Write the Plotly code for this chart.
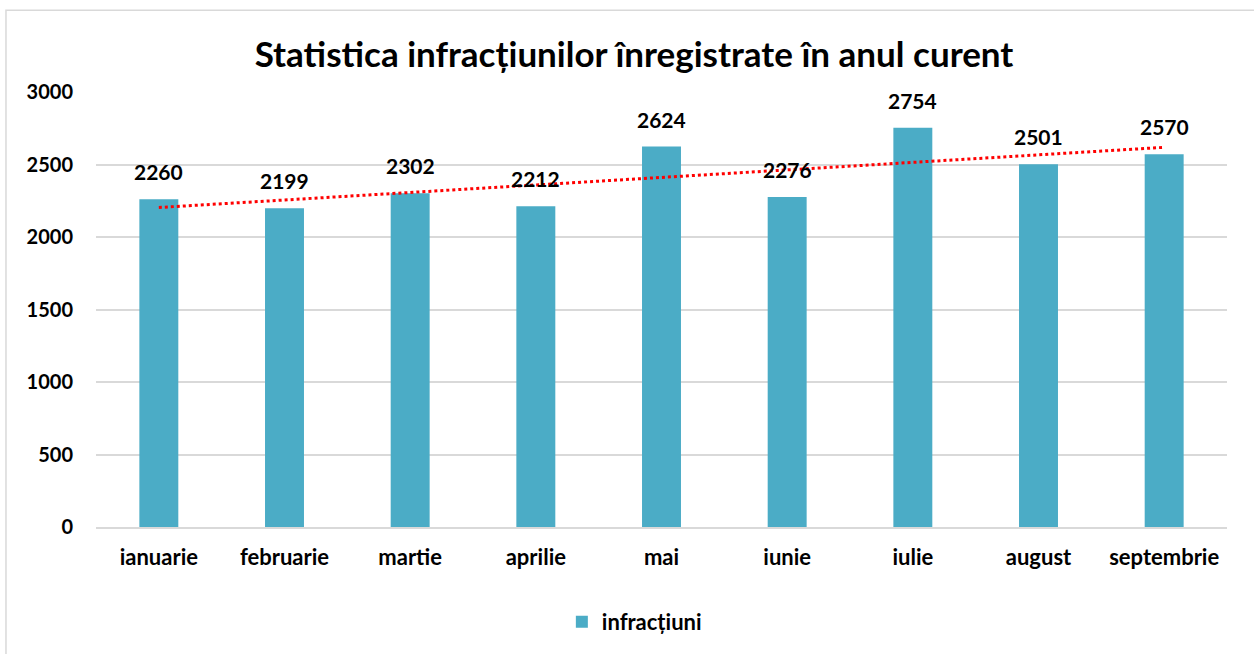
import numpy as np
import plotly.graph_objects as go

months = ["ianuarie", "februarie", "martie", "aprilie", "mai", "iunie", "iulie", "august", "septembrie"]
values = [2260, 2199, 2302, 2212, 2624, 2276, 2754, 2501, 2570]
series_name = "infracțiuni"
title = "Statistica infracțiunilor înregistrate în anul curent"
y_ticks = [0, 500, 1000, 1500, 2000, 2500, 3000]

FONT = "Lato"
BAR = "#4BACC6"

# linear trendline (least squares, as Excel does)
xs = np.arange(1, len(values) + 1)
slope, intercept = np.polyfit(xs, values, 1)
trend = slope * xs + intercept

fig = go.Figure()
fig.add_trace(go.Bar(
    x=months, y=values, name=series_name, marker_color=BAR,
    marker_line_width=0,
))
fig.add_trace(go.Scatter(
    x=months, y=trend, mode="lines", showlegend=False,
    line=dict(color="#FF0000", width=3, dash="dot"), hoverinfo="skip",
))

for m, v in zip(months, values):
    fig.add_annotation(x=m, y=v, text=str(v), showarrow=False, yanchor="bottom",
                       yshift=13, font=dict(family=FONT, size=21, color="#000000", weight="bold"))

fig.add_shape(type="rect", xref="paper", yref="paper", x0=-0.0796, x1=1.2, y0=-0.5, y1=1.188,
              line=dict(color="#D9D9D9", width=1.5), fillcolor="rgba(0,0,0,0)", layer="below")

fig.update_layout(
    width=1254, height=654,
    margin=dict(l=96, r=27, t=92, b=126),
    paper_bgcolor="white", plot_bgcolor="white",
    title=dict(text=title, x=0.5056, xanchor="center", y=0.916, yanchor="middle",
               font=dict(family=FONT, size=35, color="#000000", weight="bold")),
    bargap=0.69,
    showlegend=True,
    legend=dict(orientation="h", x=0.476, xanchor="center", y=-0.2156, yanchor="middle",
                font=dict(family=FONT, size=22, color="#000000", weight="bold")),
    xaxis=dict(showgrid=False, showline=True, linecolor="#D9D9D9", linewidth=1.5,
               ticks="", ticklabelstandoff=10,
               tickfont=dict(family=FONT, size=22, color="#000000", weight="bold")),
    yaxis=dict(range=[0, 3000], tickvals=y_ticks, showgrid=True, gridcolor="#D9D9D9", gridwidth=1.5,
               zeroline=False, showline=False, ticks="", ticklabelstandoff=22,
               tickfont=dict(family=FONT, size=20, color="#000000", weight="bold")),
)

fig.write_html("out.html", config={"displayModeBar": False},
               post_script="document.body.style.margin='0';")
